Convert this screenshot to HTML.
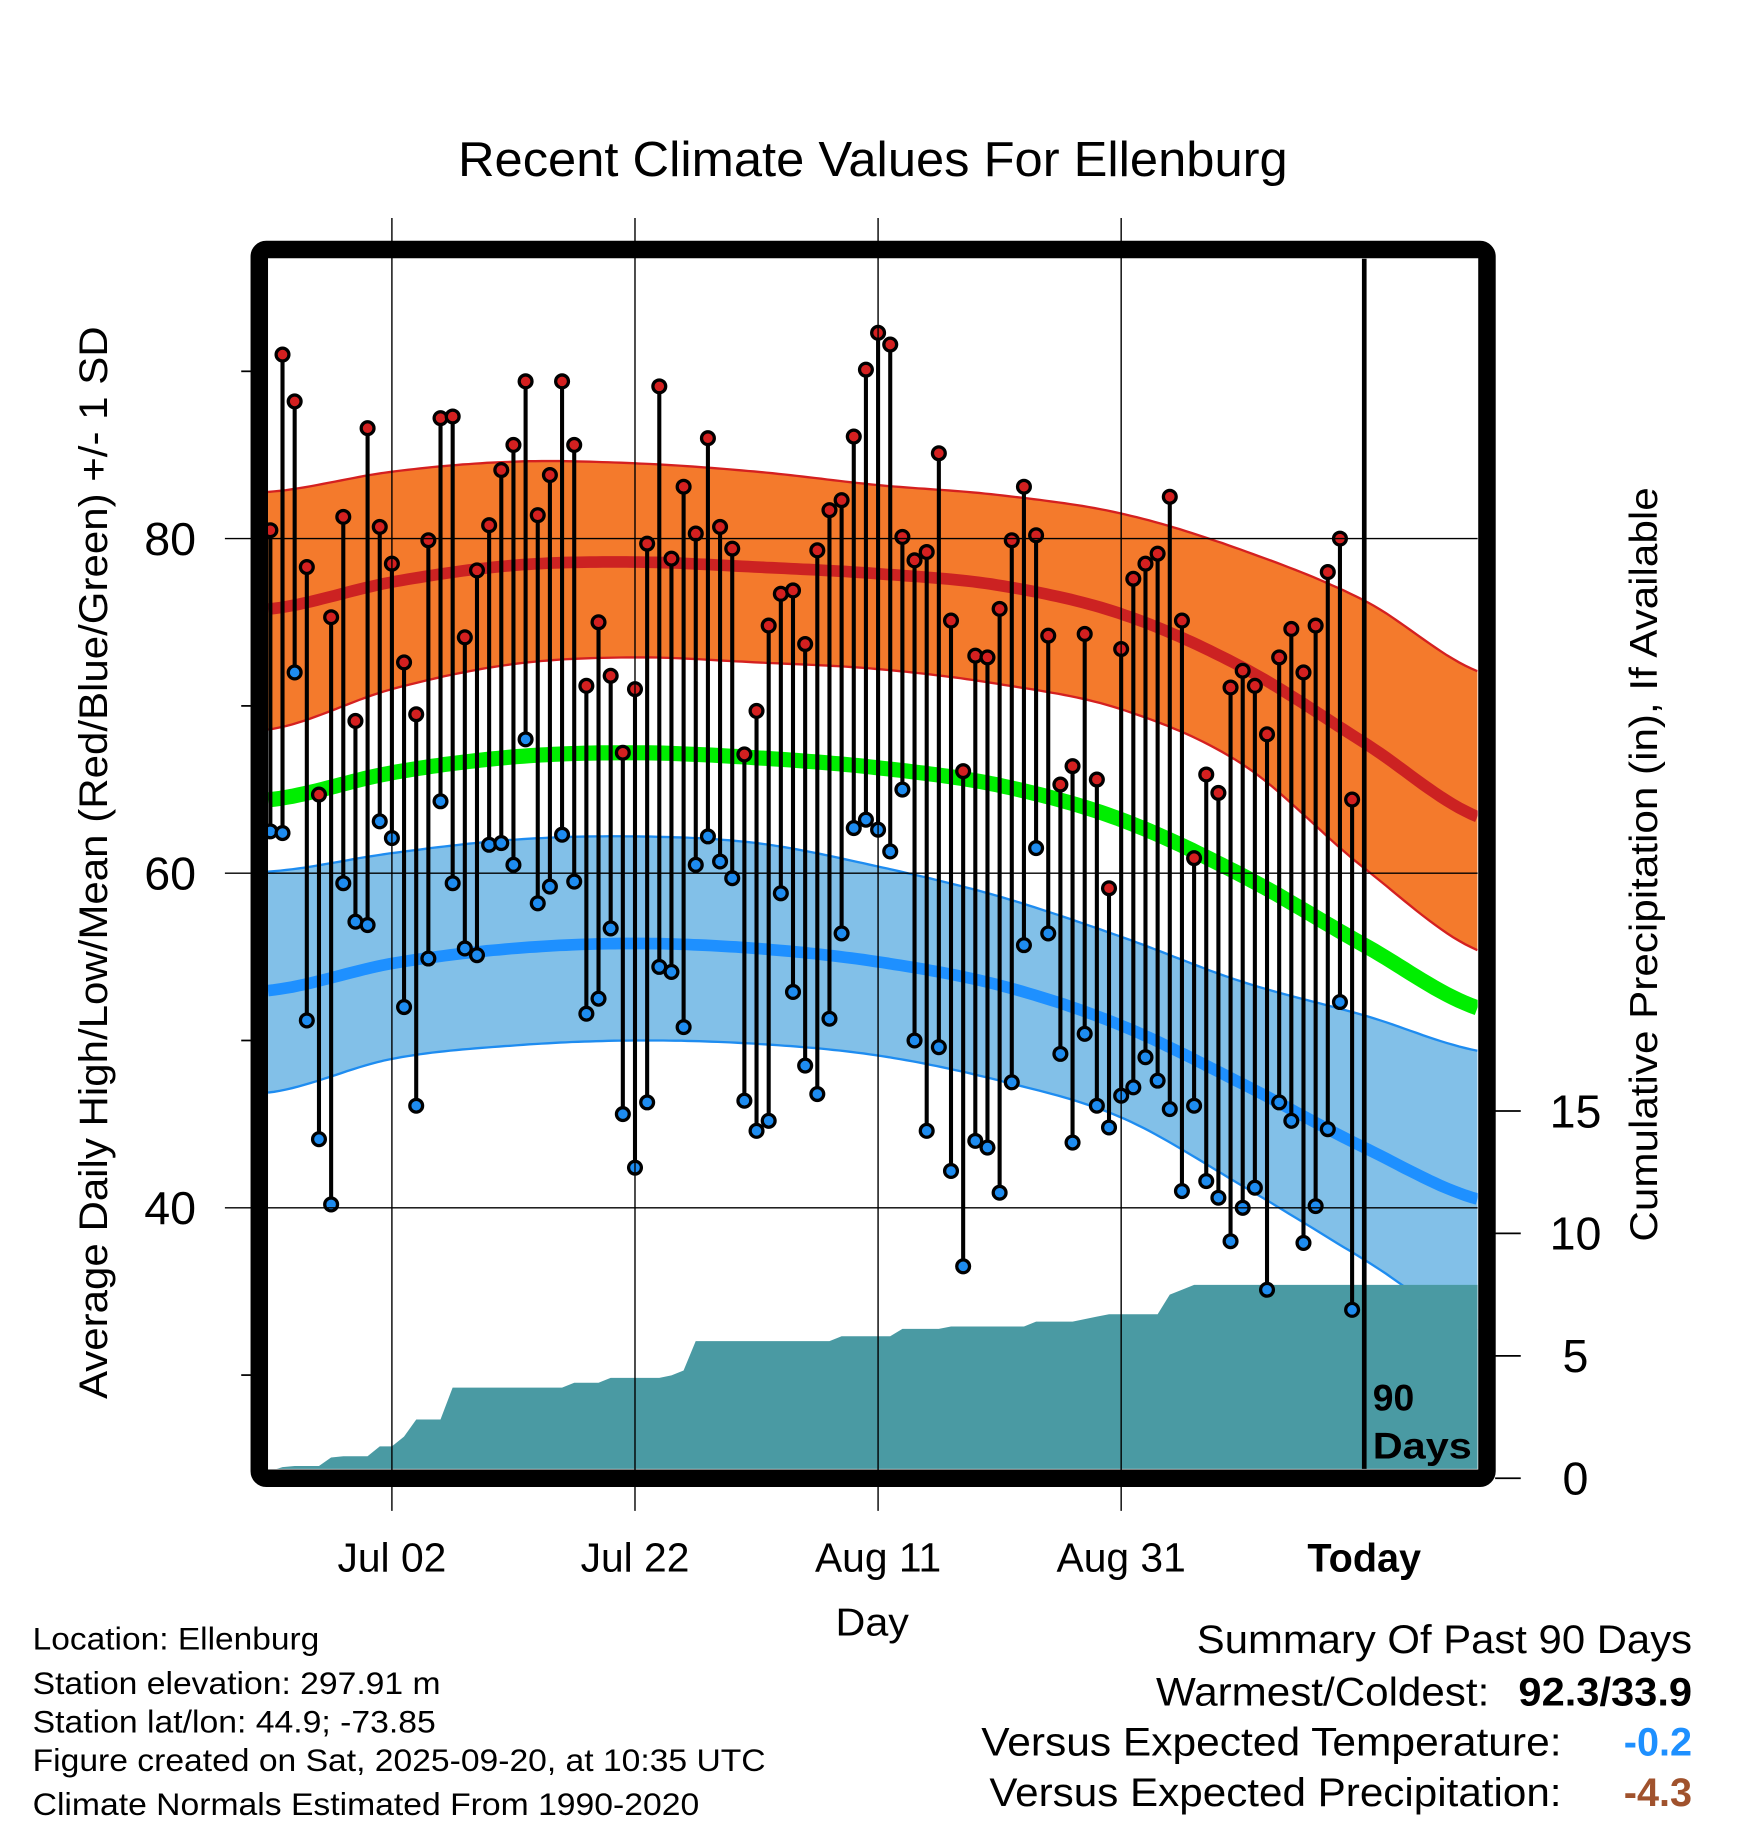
<!DOCTYPE html>
<html><head><meta charset="utf-8"><style>
html,body{margin:0;padding:0;background:#fff}
svg{display:block}
text{font-family:"Liberation Sans",Arial,sans-serif}
</style></head><body>
<svg id="chart" xmlns="http://www.w3.org/2000/svg" width="1748" height="1828" viewBox="0 0 1500 1568" preserveAspectRatio="none">
<text x="393" y="151" font-size="42" textLength="712" lengthAdjust="spacingAndGlyphs">Recent Climate Values For Ellenburg</text>
<g id="plot"></g>
<text transform="translate(92,1200) rotate(-90)" font-size="34" textLength="920" lengthAdjust="spacingAndGlyphs">Average Daily High/Low/Mean (Red/Blue/Green) +/- 1 SD</text>
<text transform="translate(1422,1065) rotate(-90)" font-size="33" textLength="647" lengthAdjust="spacingAndGlyphs">Cumulative Precipitation (in), If Available</text>
<text x="717" y="1403" font-size="33" textLength="63" lengthAdjust="spacingAndGlyphs">Day</text>
<g font-size="27">
<text x="28" y="1415" textLength="246" lengthAdjust="spacingAndGlyphs">Location: Ellenburg</text>
<text x="28" y="1453" textLength="350" lengthAdjust="spacingAndGlyphs">Station elevation: 297.91 m</text>
<text x="28" y="1486" textLength="346" lengthAdjust="spacingAndGlyphs">Station lat/lon: 44.9; -73.85</text>
<text x="28" y="1519" textLength="629" lengthAdjust="spacingAndGlyphs">Figure created on Sat, 2025-09-20, at 10:35 UTC</text>
<text x="28" y="1557" textLength="572" lengthAdjust="spacingAndGlyphs">Climate Normals Estimated From 1990-2020</text>
</g>
<g font-size="34">
<text x="1027" y="1418" textLength="425" lengthAdjust="spacingAndGlyphs">Summary Of Past 90 Days</text>
<text x="992" y="1463" textLength="286" lengthAdjust="spacingAndGlyphs">Warmest/Coldest:</text>
<text x="1303" y="1463" font-weight="bold" textLength="149" lengthAdjust="spacingAndGlyphs">92.3/33.9</text>
<text x="842" y="1506" textLength="498" lengthAdjust="spacingAndGlyphs">Versus Expected Temperature:</text>
<text x="1452" y="1506" text-anchor="end" font-weight="bold" fill="#1e90ff">-0.2</text>
<text x="849" y="1549" textLength="491" lengthAdjust="spacingAndGlyphs">Versus Expected Precipitation:</text>
<text x="1452" y="1549" text-anchor="end" font-weight="bold" fill="#a0522d">-4.3</text>
</g>
</svg>
<script>
const highs=[80.5,91.0,88.2,78.3,64.7,75.3,81.3,69.1,86.6,80.7,78.5,72.6,69.5,79.9,87.2,87.3,74.1,78.1,80.8,84.1,85.6,89.4,81.4,83.8,89.4,85.6,71.2,75.0,71.8,67.2,71.0,79.7,89.1,78.8,83.1,80.3,86.0,80.7,79.4,67.1,69.7,74.8,76.7,76.9,73.7,79.3,81.7,82.3,86.1,90.1,92.3,91.6,80.1,78.7,79.2,85.1,75.1,66.1,73.0,72.9,75.8,79.9,83.1,80.2,74.2,65.3,66.4,74.3,65.6,59.1,73.4,77.6,78.5,79.1,82.5,75.1,60.9,65.9,64.8,71.1,72.1,71.2,68.3,72.9,74.6,72.0,74.8,78.0,80.0,64.4];
const lows=[62.5,62.4,72.0,51.2,44.1,40.2,59.4,57.1,56.9,63.1,62.1,52.0,46.1,54.9,64.3,59.4,55.5,55.1,61.7,61.8,60.5,68.0,58.2,59.2,62.3,59.5,51.6,52.5,56.7,45.6,42.4,46.3,54.4,54.1,50.8,60.5,62.2,60.7,59.7,46.4,44.6,45.2,58.8,52.9,48.5,46.8,51.3,56.4,62.7,63.2,62.6,61.3,65.0,50.0,44.6,49.6,42.2,36.5,44.0,43.6,40.9,47.5,55.7,61.5,56.4,49.2,43.9,50.4,46.1,44.8,46.7,47.2,49.0,47.6,45.9,41.0,46.1,41.6,40.6,38.0,40.0,41.2,35.1,46.3,45.2,37.9,40.1,44.7,52.3,33.9];
const precipCum=[0.3,0.45,0.5,0.5,0.5,0.85,0.9,0.9,0.9,1.3,1.3,1.7,2.4,2.4,2.4,3.7,3.7,3.7,3.7,3.7,3.7,3.7,3.7,3.7,3.7,3.9,3.9,3.9,4.1,4.1,4.1,4.1,4.1,4.2,4.4,5.6,5.6,5.6,5.6,5.6,5.6,5.6,5.6,5.6,5.6,5.6,5.6,5.8,5.8,5.8,5.8,5.8,6.1,6.1,6.1,6.1,6.2,6.2,6.2,6.2,6.2,6.2,6.2,6.4,6.4,6.4,6.4,6.5,6.6,6.7,6.7,6.7,6.7,6.7,7.5,7.7,7.9,7.9,7.9,7.9,7.9,7.9,7.9,7.9,7.9,7.9,7.9,7.9,7.9,7.9];
const normDays=[0,10,20,30,40,50,60,70,80,90,100];
const meanHigh=[75.8,77.4,78.4,78.6,78.3,77.9,77.2,75.5,72.3,67.8,63.2];
const highUpper=[82.8,84.0,84.6,84.5,84.0,83.2,82.6,81.5,79.3,76.3,71.9];
const highLower=[68.6,71.0,72.5,72.9,72.6,72.2,71.3,69.8,66.5,60.3,55.2];
const meanLow=[53.0,54.6,55.5,55.8,55.5,54.7,53.3,50.9,47.4,43.6,40.4];
const lowUpper=[60.1,61.2,62.0,62.2,61.8,60.4,58.6,56.2,53.5,51.5,49.3];
const lowLower=[46.9,48.9,49.7,50.0,49.8,49.1,47.6,45.4,41.3,36.9,32.5];
const xTickLabels=["Jul 02","Jul 22","Aug 11","Aug 31","Today"];
const xTickDays=[10,30,50,70,90];
const yTickLabels=[80,60,40];
const yMinor=[90,70,50,30];
const pTicks=[0,5,10,15];

const NS="http://www.w3.org/2000/svg";
const L=230,R=1268,T=222,B=1260;
const xs=d=>232+d*10.43;
const yt=v=>462+(80-v)*14.35;
const yp=v=>1268-v*21;
const plot=document.getElementById('plot');
function mk(tag,attrs,parent){const e=document.createElementNS(NS,tag);for(const k in attrs)e.setAttribute(k,attrs[k]);(parent||plot).appendChild(e);return e;}
function interp(arr,d){let i=Math.min(Math.floor(d/10),9);i=Math.max(i,0);const t=(d-normDays[i])/10;
 const p0=arr[Math.max(i-1,0)],p1=arr[i],p2=arr[i+1],p3=arr[Math.min(i+2,arr.length-1)];
 return 0.5*((2*p1)+(-p0+p2)*t+(2*p0-5*p1+4*p2-p3)*t*t+(-p0+3*p1-3*p2+p3)*t*t*t);}
const dStart=(L-232)/10.43,dEnd=(R-232)/10.43;
function curvePts(arr){const pts=[];for(let d=dStart;d<=dEnd+0.001;d+=0.5)pts.push([xs(d),yt(interp(arr,d))]);return pts;}
function pstr(p){return p.map(q=>q[0].toFixed(1)+','+q[1].toFixed(1)).join(' ');}
const defs=mk('defs',{});
const cp=mk('clipPath',{id:'clip'},defs);mk('rect',{x:L,y:T,width:R-L,height:B-T},cp);
const g=mk('g',{'clip-path':'url(#clip)'});


function band(up,lo,fill,edge,name){const a=curvePts(up),b=curvePts(lo).reverse();
 const e=mk('polygon',{points:pstr(a.concat(b)),fill:fill},g);
 
 
 const e1=mk('polyline',{points:pstr(a),fill:'none',stroke:edge,'stroke-width':2},g);
 
 
 const e2=mk('polyline',{points:pstr(curvePts(lo)),fill:'none',stroke:edge,'stroke-width':2},g);
 
 }
function line(arr,col,w,name){const e=mk('polyline',{points:pstr(curvePts(arr)),fill:'none',stroke:col,'stroke-width':w},g);
 
 }
band(highUpper,highLower,'#f47a2c','#d42020','high-sd-band');
line(meanHigh,'#cc2222',10,'mean-high-line');
band(lowUpper,lowLower,'#82c0e8','#1e8cf0','low-sd-band');
line(meanLow,'#1e90ff',10,'mean-low-line');
const meanAll=meanHigh.map((v,i)=>(v+meanLow[i])/2);
line(meanAll,'#00ee00',13,'mean-temp-line');
const pp=[[L,yp(0)]];for(let i=0;i<precipCum.length;i++)pp.push([Math.max(xs(i),L),yp(precipCum[i])]);
pp.push([R,yp(precipCum[precipCum.length-1])]);pp.push([R,yp(0)]);
const pa=mk('polygon',{points:pstr(pp),fill:'#4a9aa3'},g);


xTickDays.forEach((d,i)=>{const x=xs(d);
 if(i<4){const gl=mk('line',{x1:x,y1:187,x2:x,y2:1296,stroke:'#000','stroke-width':1.2});
 
 }
 const t=mk('text',{x:x,y:1348,'font-size':35,'text-anchor':'middle'});t.textContent=xTickLabels[i];
 if(i==4){t.setAttribute('font-weight','bold');t.setAttribute('font-size','34');}
 
 });
yTickLabels.forEach(v=>{const y=yt(v);
 const gl=mk('line',{x1:193,y1:y,x2:R,y2:y,stroke:'#000','stroke-width':1.2});
 
 
 const t=mk('text',{x:146,y:y+14,'font-size':40,'text-anchor':'middle'});t.textContent=v;
 
 });
yMinor.forEach(v=>{const y=yt(v);const tk=mk('line',{x1:207,y1:y,x2:216,y2:y,stroke:'#000','stroke-width':1.5});
 
 });
pTicks.forEach(v=>{const y=yp(v);const tk=mk('line',{x1:1283,y1:y,x2:1305,y2:y,stroke:'#000','stroke-width':1.5});
 
 
 const t=mk('text',{x:1352,y:y+14,'font-size':40,'text-anchor':'middle'});t.textContent=v;
 
 });
for(let i=0;i<highs.length;i++){const x=xs(i);
 const s=mk('line',{x1:x,y1:yt(highs[i]),x2:x,y2:yt(lows[i]),stroke:'#000','stroke-width':3.5},g);
 
 }
for(let i=0;i<highs.length;i++){const x=xs(i);
 const h=mk('circle',{cx:x,cy:yt(highs[i]),r:5.5,fill:'#d42020',stroke:'#000','stroke-width':2.8},g);
 
 
 const l=mk('circle',{cx:x,cy:yt(lows[i]),r:5.5,fill:'#1e8cf0',stroke:'#000','stroke-width':2.8},g);
 
 }
const tl=mk('line',{x1:xs(90),y1:T,x2:xs(90),y2:B,stroke:'#000','stroke-width':4});


const tt=mk('text',{x:1178,y:1210,'font-size':32,'font-weight':'bold'});tt.textContent='90';


const tt2=mk('text',{x:1178,y:1251,'font-size':32,'font-weight':'bold','textLength':85,'lengthAdjust':'spacingAndGlyphs'});tt2.textContent='Days';


const fr=mk('rect',{x:222.5,y:214,width:1053.5,height:1054,rx:6,fill:'none',stroke:'#000','stroke-width':15});


</script>
</body></html>
